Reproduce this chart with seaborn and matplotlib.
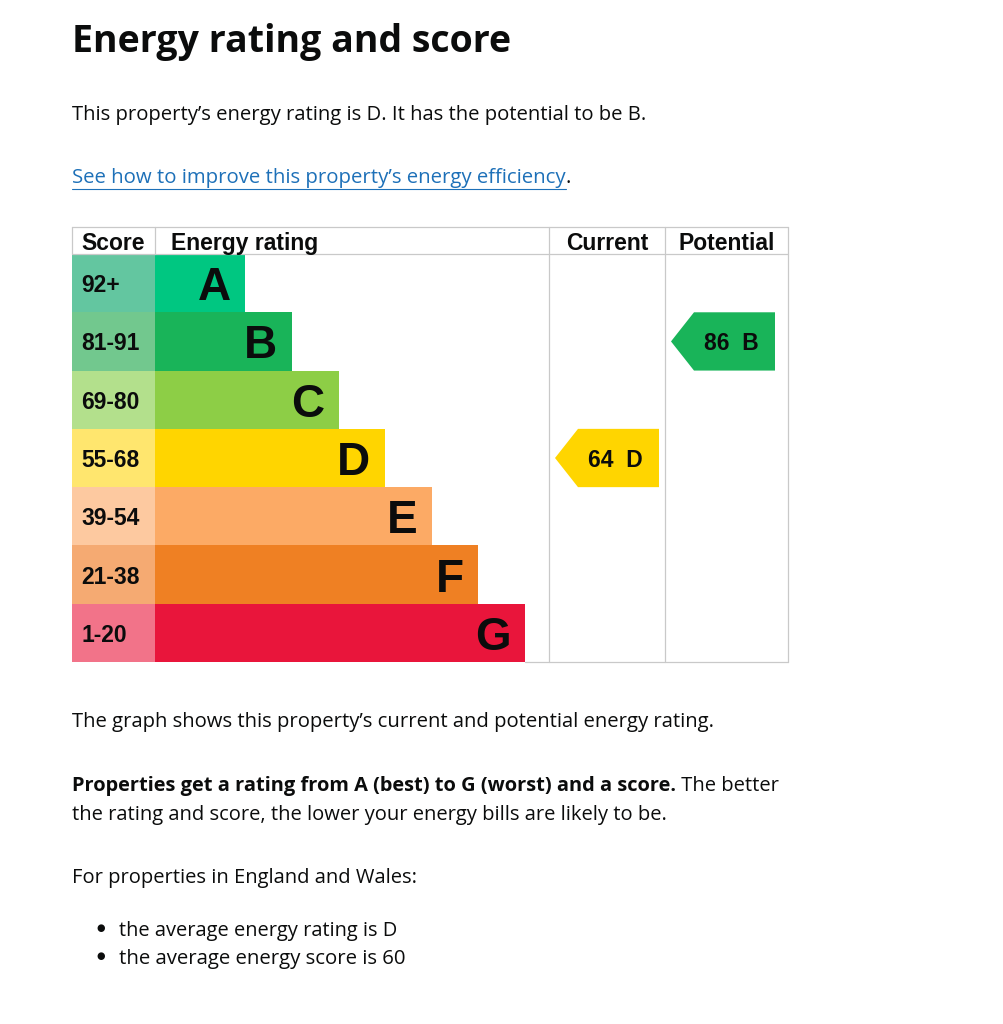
import matplotlib
matplotlib.use("Agg")
import matplotlib.pyplot as plt
from matplotlib.patches import Polygon
from matplotlib.lines import Line2D
import pandas as pd
import seaborn as sns

# data
bands = ["A", "B", "C", "D", "E", "F", "G"]
score_ranges = ["92+", "81-91", "69-80", "55-68", "39-54", "21-38", "1-20"]
bar_len = [90, 137, 184, 230, 277, 323, 370]
band_colors = ["#00c781", "#19b459", "#8dce46", "#ffd500", "#fcaa65", "#ef8023", "#e9153b"]
score_colors = ["#63c6a0", "#72c88e", "#b3e08c", "#ffe66e", "#fdc9a0", "#f5aa72", "#f27389"]
current_score, current_band = 64, "D"
potential_score, potential_band = 86, "B"

sns.set_style("white")
plt.rcParams["font.family"] = ["Liberation Sans", "DejaVu Sans"]

INK = "#0b0c0c"
GRID = "#c9c9c9"
W, H = 1004, 1024
fig = plt.figure(figsize=(W / 100, H / 100), dpi=100, facecolor="white")
renderer = fig.canvas.get_renderer()


def box(x0, y0, x1, y1):
    return fig.add_axes([x0 / W, 1 - y1 / H, (x1 - x0) / W, (y1 - y0) / H])


def fit(x, y, s, width, **kw):
    # put a line of text and size it to the width seen in the picture
    t = fig.text(x / W, 1 - y / H, s, va="baseline", fontsize=10, **kw)
    w = t.get_window_extent(renderer).width
    t.set_fontsize(10 * width / w)
    return t


def hline(y, x0, x1):
    fig.add_artist(Line2D([x0 / W, x1 / W], [1 - y / H, 1 - y / H], color=GRID, lw=0.9))


def vline(x, y0, y1):
    fig.add_artist(Line2D([x / W, x / W], [1 - y0 / H, 1 - y1 / H], color=GRID, lw=0.9))


df = pd.DataFrame({"band": bands, "range": score_ranges, "len": bar_len, "cell": [1] * len(bands)})

# score column
ax_s = box(72, 254, 155.5, 662)
sns.barplot(data=df, x="cell", y="band", hue="band", palette=score_colors, saturation=1,
            width=1, legend=False, linewidth=0, ax=ax_s)
ax_s.set_xlim(0, 1)
ax_s.set_ylim(6.5, -0.5)
ax_s.axis("off")
for i, rng in enumerate(score_ranges):
    ax_s.annotate(rng, xy=(0, i), xytext=(9.5, 0), textcoords="offset pixels",
                  ha="left", va="center_baseline", fontsize=16.5, fontweight="bold", color=INK)

# rating bars
ax_r = box(155.5, 254, 549, 662)
sns.barplot(data=df, x="len", y="band", hue="band", palette=band_colors, saturation=1,
            width=1, legend=False, linewidth=0, ax=ax_r)
ax_r.set_xlim(0, 393.5)
ax_r.set_ylim(6.5, -0.5)
ax_r.axis("off")
for i, (b, ln) in enumerate(zip(bands, bar_len)):
    ax_r.annotate(b, xy=(ln, i), xytext=(-15, 0), textcoords="offset pixels",
                  ha="right", va="center_baseline", fontsize=33, fontweight="bold", color=INK)


def arrow(ax, score, band):
    r = bands.index(band)
    col = band_colors[r]
    ax.add_patch(Polygon([(6, r), (29, r - 0.5), (110, r - 0.5), (110, r + 0.5), (29, r + 0.5)],
                         closed=True, facecolor=col, edgecolor="none"))
    ax.text(66, r, f"{score}  {band}", ha="center", va="center_baseline",
            fontsize=16.5, fontweight="bold", color=INK)


ax_c = box(549, 254, 665, 662)
ax_c.set_xlim(0, 116)
ax_c.set_ylim(6.5, -0.5)
ax_c.axis("off")
arrow(ax_c, current_score, current_band)

ax_p = box(665, 254, 788, 662)
ax_p.set_xlim(0, 123)
ax_p.set_ylim(6.5, -0.5)
ax_p.axis("off")
arrow(ax_p, potential_score, potential_band)

# header row and table lines
hdr = dict(fontsize=16.5, fontweight="bold", color=INK, va="baseline")
fig.text(81.5 / W, 1 - 250 / H, "Score", ha="left", **hdr)
fig.text(171 / W, 1 - 250 / H, "Energy rating", ha="left", **hdr)
fig.text(607.5 / W, 1 - 250 / H, "Current", ha="center", **hdr)
fig.text(727 / W, 1 - 250 / H, "Potential", ha="center", **hdr)

hline(226.5, 72, 788)
hline(254, 72, 788)
hline(662, 525, 788)
vline(72, 226.5, 254)
vline(155.5, 226.5, 254)
for x in (549, 665, 788):
    vline(x, 226.5, 662)

# page text
body = dict(family=["Open Sans", "DejaVu Sans"], color=INK)
fit(72, 52, "Energy rating and score", 441, fontweight="bold", **body)
fit(72, 120, "This property\u2019s energy rating is D. It has the potential to be B.", 576, **body)

link = fit(72, 183, "See how to improve this property\u2019s energy efficiency", 494,
           family=["Open Sans", "DejaVu Sans"], color="#1d70b8")
lb = link.get_window_extent(renderer)
fig.text(lb.x1 / W, 1 - 183 / H, ".", va="baseline", fontsize=link.get_fontsize(), **body)
fig.add_artist(Line2D([72 / W, lb.x1 / W], [1 - 188.5 / H, 1 - 188.5 / H], color="#1d70b8", lw=0.8))

fit(72, 727, "The graph shows this property\u2019s current and potential energy rating.", 641, **body)
bold = fit(72, 791, "Properties get a rating from A (best) to G (worst) and a score.", 604,
           fontweight="bold", **body)
nxt = fit(72, 820, "the rating and score, the lower your energy bills are likely to be.", 593, **body)
bb = bold.get_window_extent(renderer)
fig.text(bb.x1 / W, 1 - 791 / H, " The better", va="baseline", fontsize=nxt.get_fontsize(), **body)
fit(72, 883, "For properties in England and Wales:", 345, **body)

b1 = fit(119, 936, "the average energy rating is D", 279, **body)
b2 = fit(119, 964, "the average energy score is 60", 287, **body)
for y in (936, 964):
    fig.text(101 / W, 1 - (y - 7) / H, "\u25cf", ha="center", va="center", fontsize=7, **body)

fig.savefig("out.png", dpi=100, facecolor="white")
